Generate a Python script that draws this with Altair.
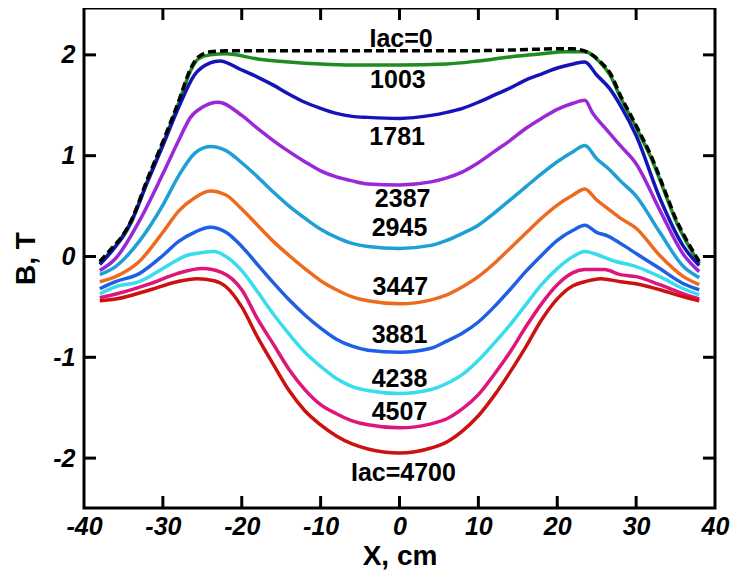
import altair as alt
import pandas as pd

# ---- data ----
SERIES = ["Iac=0", "1003", "1781", "2387", "2945", "3447", "3881", "4238", "4507", "4700"]
COLORS = ["#000000", "#1e8c1e", "#1414b8", "#9b28d8", "#1ea0d6", "#ee6a1e",
          "#1f5fe6", "#38dcee", "#e0157a", "#cc1111"]

X_0 = [-38, -36.5, -35, -34, -32, -30, -28, -26.5, -25.5, -24, -22, -15, -8, 0, 8, 15, 20, 22, 24,
       25.5, 26.7, 28, 30, 32, 34, 35, 36, 37, 38]
Y_0 = [-0.05, 0.08, 0.22, 0.36, 0.76, 1.14, 1.54, 1.86, 1.98, 2.03, 2.04, 2.04, 2.04, 2.04, 2.04, 2.05, 2.06, 2.06, 2.02,
       1.93, 1.82, 1.60, 1.30, 0.98, 0.58, 0.38, 0.22, 0.08, -0.05]

X_1003 = [-38, -36.5, -35, -34, -32, -30, -28, -26.5, -25.5, -24, -22, -18, -14, -10, -6, 0, 6, 10, 14, 18,
          21, 23.5, 25.5, 26.7, 28, 30, 32, 34, 35, 36, 37, 38]
Y_1003 = [-0.07, 0.06, 0.20, 0.34, 0.74, 1.12, 1.52, 1.84, 1.96, 2.00, 2.01, 1.96, 1.93, 1.91, 1.90, 1.90, 1.91, 1.94, 1.98, 2.01,
          2.03, 2.03, 1.92, 1.80, 1.58, 1.28, 0.96, 0.56, 0.36, 0.20, 0.06, -0.07]

X_1781 = [-38, -36, -34, -32, -30, -28, -26, -24, -22.8, -20, -18, -16, -14, -12, -10, -8, -6, -4, 0, 4, 6, 8,
          10, 12, 14, 16, 18, 20, 22, 23.5, 25, 26.7, 28, 30, 33, 36, 38]
Y_1781 = [-0.08, 0.10, 0.35, 0.73, 1.10, 1.48, 1.80, 1.92, 1.94, 1.85, 1.78, 1.70, 1.61, 1.53, 1.47, 1.42, 1.39, 1.38, 1.37, 1.40, 1.43, 1.47,
          1.53, 1.60, 1.67, 1.75, 1.81, 1.87, 1.91, 1.93, 1.80, 1.66, 1.50, 1.20, 0.58, 0.10, -0.09]

X_2387 = [-38, -36, -33, -30, -28, -26.5, -25, -23, -20, -18, -16, -14, -12, -10, -8, -6, -4, 0, 4, 6, 8, 10,
          12, 14, 16, 18, 20, 22, 23.5, 24.5, 26, 28, 30, 33, 36, 38]
Y_2387 = [-0.14, -0.02, 0.35, 0.82, 1.15, 1.38, 1.48, 1.53, 1.40, 1.27, 1.15, 1.04, 0.94, 0.85, 0.79, 0.75, 0.72, 0.71, 0.74, 0.78, 0.84, 0.93,
          1.04, 1.15, 1.27, 1.37, 1.46, 1.52, 1.55, 1.42, 1.28, 1.10, 0.92, 0.46, 0.02, -0.15]

X_2945 = [-38, -36, -33, -30, -28, -26, -24, -22, -20, -18, -16, -14, -12, -10, -8, -6, -4, 0, 4, 6, 8, 10,
          12, 14, 16, 18, 20, 22, 23.5, 25, 26.5, 28, 30, 33, 36, 38]
Y_2945 = [-0.18, -0.10, 0.15, 0.51, 0.80, 1.02, 1.09, 1.05, 0.93, 0.79, 0.64, 0.50, 0.38, 0.27, 0.19, 0.13, 0.10, 0.08, 0.11, 0.16, 0.23, 0.31,
          0.43, 0.56, 0.69, 0.82, 0.94, 1.04, 1.10, 0.97, 0.87, 0.75, 0.60, 0.24, -0.10, -0.21]

X_3447 = [-38, -36, -33, -30, -28, -26, -24, -22, -20, -18, -16, -14, -12, -10, -8, -6, -4, 0, 4, 6, 8, 10,
          12, 14, 16, 18, 20, 22, 23.5, 25, 26.5, 28, 30, 33, 36, 38]
Y_3447 = [-0.25, -0.20, -0.05, 0.24, 0.45, 0.58, 0.65, 0.61, 0.47, 0.31, 0.15, 0.01, -0.12, -0.24, -0.33, -0.40, -0.44, -0.47, -0.43, -0.38, -0.30, -0.20,
          -0.07, 0.08, 0.23, 0.38, 0.51, 0.61, 0.67, 0.56, 0.47, 0.38, 0.28, 0.01, -0.20, -0.28]

X_3881 = [-38, -36, -33, -30, -28, -26, -24, -22, -20, -18, -16, -14, -12, -10, -8, -6, -4, 0, 4, 6, 8, 10,
          12, 14, 16, 18, 20, 22, 23.5, 25, 26.5, 28, 30, 33, 36, 38]
Y_3881 = [-0.32, -0.25, -0.17, 0.01, 0.15, 0.24, 0.29, 0.24, 0.10, -0.08, -0.26, -0.43, -0.58, -0.71, -0.82, -0.89, -0.93, -0.95, -0.91, -0.84, -0.76, -0.65,
          -0.50, -0.33, -0.15, 0.01, 0.16, 0.26, 0.31, 0.24, 0.20, 0.13, 0.03, -0.12, -0.27, -0.33]

X_4238 = [-38, -36, -33, -30, -27, -25, -23.5, -22, -20, -18, -16, -14, -12, -10, -8, -6, -4, 0, 4, 6, 8, 10,
          12, 14, 16, 18, 20, 22, 23.5, 25, 27, 30, 33, 36, 38]
Y_4238 = [-0.37, -0.30, -0.25, -0.12, 0.01, 0.04, 0.05, 0.00, -0.14, -0.35, -0.57, -0.77, -0.95, -1.09, -1.21, -1.29, -1.33, -1.36, -1.32, -1.26, -1.17, -1.03,
          -0.86, -0.68, -0.48, -0.28, -0.12, 0.00, 0.05, 0.02, -0.04, -0.10, -0.20, -0.32, -0.38]

X_4507 = [-38, -35.8, -31.6, -28.2, -25, -22.5, -20, -18, -16, -14, -12, -10, -8, -6, -4, 0, 4, 6, 8, 10,
          12, 14, 16, 18, 20, 22, 23.5, 26, 28, 30, 33, 36, 38]
Y_4507 = [-0.41, -0.37, -0.27, -0.17, -0.12, -0.16, -0.33, -0.62, -0.87, -1.12, -1.32, -1.47, -1.56, -1.63, -1.67, -1.70, -1.66, -1.61, -1.51, -1.37,
          -1.17, -0.95, -0.70, -0.47, -0.28, -0.16, -0.13, -0.13, -0.18, -0.20, -0.28, -0.37, -0.42]

X_4700 = [-38, -35.8, -31.6, -28.2, -25.7, -23.5, -22, -20, -18, -16, -14, -12, -10, -8, -6, -4, 0, 4, 6, 8, 10,
          12, 14, 16, 18, 20, 22, 23.5, 25.5, 28, 30, 33, 36, 38]
Y_4700 = [-0.44, -0.42, -0.33, -0.25, -0.22, -0.24, -0.30, -0.50, -0.80, -1.07, -1.33, -1.53, -1.67, -1.78, -1.86, -1.91, -1.95, -1.90, -1.84, -1.73, -1.58,
          -1.38, -1.15, -0.90, -0.63, -0.42, -0.29, -0.25, -0.22, -0.25, -0.27, -0.33, -0.40, -0.44]

LABEL_TEXT = ["Iac=0", "1003", "1781", "2387", "2945", "3447", "3881", "4238", "4507", "Iac=4700"]
LABEL_X = [0.2, -0.2, -0.3, 0.4, 0.0, 0.1, 0.0, 0.0, 0.0, 0.5]
LABEL_Y = [2.16, 1.75, 1.19, 0.57, 0.28, -0.30, -0.78, -1.22, -1.54, -2.15]

X_TICKS = [-40, -30, -20, -10, 0, 10, 20, 30, 40]
X_INNER_TICKS = [-30, -20, -10, 0, 10, 20, 30]
Y_TICKS = [-2, -1, 0, 1, 2]
X_DOMAIN = [-40, 40]
Y_DOMAIN = [-2.495, 2.465]

W, H = 631, 500
TICK = 12
FONT = "Liberation Sans"

xs = [X_0, X_1003, X_1781, X_2387, X_2945, X_3447, X_3881, X_4238, X_4507, X_4700]
ys = [Y_0, Y_1003, Y_1781, Y_2387, Y_2945, Y_3447, Y_3881, Y_4238, Y_4507, Y_4700]
rows = []
for name, xv, yv in zip(SERIES, xs, ys):
    for i, (a, b) in enumerate(zip(xv, yv)):
        rows.append({"series": name, "x": a, "y": b, "i": i})
df = pd.DataFrame(rows)
labels = pd.DataFrame({"t": LABEL_TEXT, "x": LABEL_X, "y": LABEL_Y})
xt = pd.DataFrame({"v": X_INNER_TICKS})
yt = pd.DataFrame({"v": Y_TICKS})

xs_scale = alt.Scale(domain=X_DOMAIN, nice=False, zero=False)
ys_scale = alt.Scale(domain=Y_DOMAIN, nice=False, zero=False)

X_AXIS = alt.Axis(orient="bottom", values=X_TICKS, title="X, cm", ticks=False, tickSize=0,
                  domain=False, grid=False, labelPadding=6, labelFlush=False,
                  labelExpr="'' + datum.value", labelFont=FONT,
                  labelFontSize=25, labelFontWeight="bold", labelFontStyle="italic",
                  labelColor="black", titleFont=FONT, titleFontSize=28,
                  titleFontWeight="bold", titleColor="black", titlePadding=3)
Y_AXIS = alt.Axis(orient="left", values=Y_TICKS, title="B, T", ticks=False, tickSize=0,
                  domain=False, grid=False, labelPadding=9,
                  labelExpr="'' + datum.value", labelFont=FONT,
                  labelFontSize=25, labelFontWeight="bold", labelFontStyle="italic",
                  labelColor="black", titleFont=FONT, titleFontSize=28,
                  titleFontWeight="bold", titleColor="black", titlePadding=12)

lines = alt.Chart(df).transform_filter(alt.datum.series != "Iac=0").mark_line(
    strokeWidth=3.5, interpolate="monotone").encode(
    x=alt.X("x:Q", scale=xs_scale, axis=X_AXIS),
    y=alt.Y("y:Q", scale=ys_scale, axis=Y_AXIS),
    color=alt.Color("series:N", scale=alt.Scale(domain=SERIES, range=COLORS), legend=None),
    detail="series:N",
    order="i:Q",
)

dashed = alt.Chart(df).transform_filter(alt.datum.series == "Iac=0").mark_line(
    strokeWidth=3.5, color="black", strokeDash=[8, 4], interpolate="monotone").encode(
    x=alt.X("x:Q", scale=xs_scale, axis=X_AXIS),
    y=alt.Y("y:Q", scale=ys_scale, axis=Y_AXIS),
    order="i:Q",
)

text = alt.Chart(labels).mark_text(font=FONT, fontSize=25, fontWeight="bold", color="black",
                                   baseline="middle", align="center").encode(
    x=alt.X("x:Q", scale=xs_scale, axis=X_AXIS),
    y=alt.Y("y:Q", scale=ys_scale, axis=Y_AXIS),
    text="t:N",
)

rule_style = dict(color="black", strokeWidth=3)
tick_left = alt.Chart(yt).mark_rule(**rule_style).encode(
    y=alt.Y("v:Q", scale=ys_scale, axis=Y_AXIS), x=alt.value(0), x2=alt.value(TICK))
tick_right = alt.Chart(yt).mark_rule(**rule_style).encode(
    y=alt.Y("v:Q", scale=ys_scale, axis=Y_AXIS), x=alt.value(W - TICK), x2=alt.value(W))
tick_bottom = alt.Chart(xt).mark_rule(**rule_style).encode(
    x=alt.X("v:Q", scale=xs_scale, axis=X_AXIS), y=alt.value(H - TICK), y2=alt.value(H))
tick_top = alt.Chart(xt).mark_rule(**rule_style).encode(
    x=alt.X("v:Q", scale=xs_scale, axis=X_AXIS), y=alt.value(0), y2=alt.value(TICK))

chart = alt.layer(lines, dashed, text, tick_left, tick_right, tick_bottom, tick_top).properties(
    width=W, height=H,
    background="white",
    autosize=alt.AutoSizeParams(type="none"),
    padding={"left": 76, "top": 0, "right": 15, "bottom": 65},
).configure_view(stroke="black", strokeWidth=3)

chart.save("out.html", embed_options={"renderer": "svg", "actions": False})
